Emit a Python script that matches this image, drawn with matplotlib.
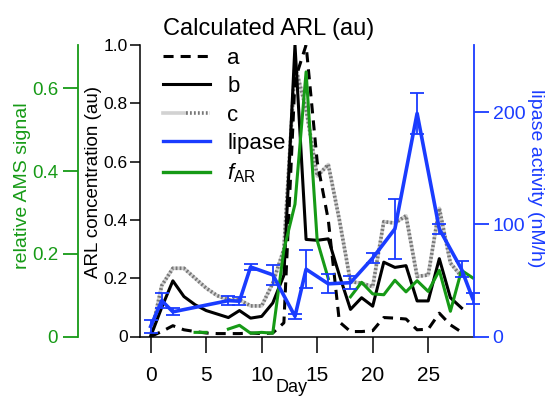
import numpy as np
import matplotlib
matplotlib.use('Agg')
import matplotlib.pyplot as plt
from matplotlib.lines import Line2D
from matplotlib.legend_handler import HandlerTuple

plt.rcParams['font.family'] = ['Liberation Sans', 'DejaVu Sans']
plt.rcParams['mathtext.fontset'] = 'custom'
plt.rcParams['mathtext.rm'] = 'Liberation Sans'
plt.rcParams['mathtext.it'] = 'Liberation Sans:italic'

nan = np.nan

# calculated ARL (au), days 0..28
days = np.arange(0, 29)
arl_a = [0, 0.017, 0.037, 0.023, 0.017, 0.012, 0.010, 0.010, 0.010, 0.012,
         0.010, 0.012, 0.047, 0.88, 1.0, 0.60, 0.40, 0.05, 0.017, 0.017,
         0.020, 0.065, 0.063, 0.060, 0.023, 0.025, 0.080, 0.040, 0.015]
arl_b = [0, 0.10, 0.191, 0.137, 0.109, 0.089, 0.077, 0.065, 0.089, 0.063,
         0.069, 0.115, 0.21, 1.0, 0.333, 0.33, 0.335, 0.21, 0.093, 0.133,
         0.104, 0.255, 0.237, 0.243, 0.122, 0.122, 0.267, 0.133, 0.098]
arl_c = [0, 0.175, 0.234, 0.234, 0.20, 0.166, 0.14, 0.126, 0.126, 0.105,
         0.105, 0.183, 0.30, 0.93, 0.78, 0.55, 0.59, 0.40, 0.188, 0.183,
         0.171, 0.394, 0.389, 0.414, 0.206, 0.211, 0.44, 0.252, 0.206]

# relative AMS signal f_AR, days 0..29
days_far = np.arange(0, 30)
f_ar = [nan, nan, nan, nan, 0.010, 0.010, nan, 0.018, 0.027, 0.008,
        0.010, 0.008, 0.21, 0.32, 0.64, 0.232, 0.14, nan, 0.096, 0.131,
        0.103, 0.101, 0.136, 0.108, 0.135, 0.109, 0.16, 0.061, 0.16, 0.142]

# lipase activity (nM/h)
lip_days = [0, 1, 2, 7, 8, 9, 11, 13, 14, 16, 18, 20, 22, 24, 26, 28, 29]
lipase = [9, 32, 22, 32, 31.5, 62, 55, 18, 60, 47, 48, 70, 96, 199, 96, 60, 34]
lipase_err = [6, 7, 3, 4, 3.5, 2.5, 9, 2, 17, 8.5, 6, 4.5, 26.5, 18, 4.5, 7, 5]

blue = '#1a3cff'
green = '#169a16'
c_light = '#d2d2d2'
c_dark = '#777777'

fig = plt.figure(figsize=(5.46, 3.98), dpi=100)
ax = fig.add_axes([140 / 546, (398 - 336.5) / 398, 333.5 / 546, 291.5 / 398])

ax.plot(days, arl_c, color=c_light, lw=2.6, solid_capstyle='butt')
ax.plot(days, arl_c, color=c_dark, lw=2.6, dashes=(0.5, 0.6))
ax.plot(days, arl_a, color='black', lw=2.2, dashes=(3.3, 2.3))
ax.plot(days, arl_b, color='black', lw=2.2)

ax.set_xlim(-0.96, 29.08)
ax.set_ylim(0, 1.0)
ax.set_xticks([0, 5, 10, 15, 20, 25])
ax.set_yticks([0, 0.2, 0.4, 0.6, 0.8, 1.0])
ax.set_yticklabels(['0', '0.2', '0.4', '0.6', '0.8', '1.0'])
ax.spines['top'].set_visible(False)
ax.spines['right'].set_visible(False)
for s in ['left', 'bottom']:
    ax.spines[s].set_linewidth(1.1)
ax.tick_params(axis='x', direction='out', length=11.5, width=1.1, pad=10, labelsize=15)
ax.tick_params(axis='y', direction='out', length=7.2, width=1.1, pad=1.7, labelsize=12.5)
ax.set_xlabel('Day', fontsize=13, va='top')
ax.xaxis.set_label_coords(0.453, -0.146)
ax.set_ylabel('ARL concentration (au)', fontsize=13.5)
ax.yaxis.set_label_coords(-0.115, 0.531)

# green axis (relative AMS signal)
ax2 = ax.twinx()
ax2.plot(days_far, f_ar, color=green, lw=2.2, clip_on=False)
ax2.set_ylim(0, 0.705)
ax2.set_yticks([0, 0.2, 0.4, 0.6])
ax2.set_yticklabels(['0', '0.2', '0.4', '0.6'])
ax2.yaxis.set_ticks_position('left')
ax2.yaxis.set_label_position('left')
ax2.spines['left'].set_position(('axes', -0.186))
ax2.spines['left'].set_visible(True)
ax2.spines['left'].set_color(green)
ax2.spines['left'].set_linewidth(1.3)
for s in ['right', 'top', 'bottom']:
    ax2.spines[s].set_visible(False)
ax2.tick_params(axis='y', colors=green, direction='out', length=10.8, width=1.3,
                pad=3.4, labelsize=13.5)
ax2.set_ylabel('relative AMS signal', color=green, fontsize=14)
ax2.yaxis.set_label_coords(-0.326, 0.518)

# blue axis (lipase)
ax3 = ax.twinx()
ax3.errorbar(lip_days, lipase, yerr=lipase_err, color=blue, lw=2.6,
             elinewidth=1.3, capsize=4.7, capthick=1.3, clip_on=False)
ax3.set_ylim(0, 260)
ax3.set_yticks([0, 100, 200])
ax3.spines['right'].set_color(blue)
ax3.spines['right'].set_linewidth(1.3)
for s in ['left', 'top', 'bottom']:
    ax3.spines[s].set_visible(False)
ax3.tick_params(axis='y', colors=blue, direction='out', length=10.8, width=1.3,
                pad=2.9, labelsize=14)
ax3.set_ylabel('lipase activity (nM/h)', color=blue, fontsize=14,
               rotation=270, va='bottom')
ax3.yaxis.set_label_coords(1.16, 0.544)

# legend
h_a = Line2D([], [], color='black', lw=2.2, dashes=(3.3, 2.3))
h_b = Line2D([], [], color='black', lw=2.2)
h_c1 = Line2D([], [], color=c_light, lw=2.6)
h_c2 = Line2D([], [], color=c_dark, lw=2.6, dashes=(0.5, 0.6))
h_l = Line2D([], [], color=blue, lw=2.4)
h_g = Line2D([], [], color=green, lw=2.4)
leg = fig.legend([h_a, h_b, (h_c1, h_c2), h_l, h_g],
                 ['a', 'b', 'c', 'lipase', r'$f_{\rm AR}$'],
                 handler_map={tuple: HandlerTuple(ndivide=None, pad=0)},
                 loc='upper left', bbox_to_anchor=(163 / 546, 1 - 18 / 398),
                 frameon=False, fontsize=16, title='Calculated ARL (au)',
                 title_fontsize=17, alignment='left', handlelength=2.1,
                 handletextpad=0.8, labelspacing=0.34, borderpad=0,
                 borderaxespad=0)

fig.savefig('out.png', dpi=100)
